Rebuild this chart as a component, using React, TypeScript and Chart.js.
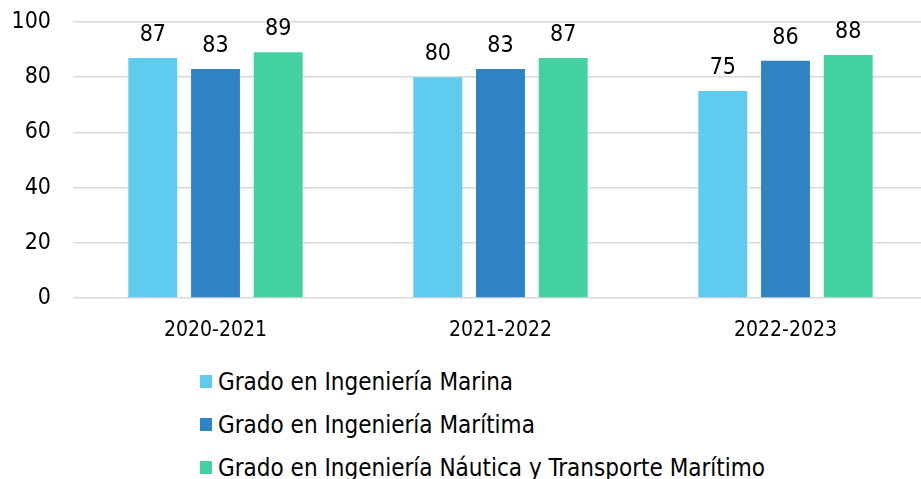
import React, { useEffect, useRef } from "react";
import { Chart, registerables } from "chart.js";

Chart.register(...registerables);

const categories = ["2020-2021", "2021-2022", "2022-2023"];
const seriesNames = [
  "Grado en Ingeniería Marina",
  "Grado en Ingeniería Marítima",
  "Grado en Ingeniería Náutica y Transporte Marítimo",
];
const marina = [87, 80, 75];
const maritima = [83, 83, 86];
const nautica = [89, 87, 88];
const colors = ["#5ECBEF", "#2E83C4", "#43D1A0"];
const yTicks = [0, 20, 40, 60, 80, 100];

const FONT = "'DejaVu Sans Condensed', 'Liberation Sans', sans-serif";

const valueLabels = {
  id: "valueLabels",
  afterDatasetsDraw(chart: any) {
    const ctx = chart.ctx;
    ctx.save();
    ctx.fillStyle = "#000";
    ctx.font = `23px ${FONT}`;
    ctx.textAlign = "center";
    ctx.textBaseline = "alphabetic";
    chart.data.datasets.forEach((ds: any, i: number) => {
      const meta = chart.getDatasetMeta(i);
      meta.data.forEach((el: any, j: number) => {
        ctx.fillText(String(ds.data[j]), el.x, el.y - 17);
      });
    });
    ctx.restore();
  },
};

export default function App() {
  const ref = useRef<HTMLCanvasElement>(null);
  useEffect(() => {
    const chart = new Chart(ref.current!, {
      type: "bar",
      data: {
        labels: categories,
        datasets: [marina, maritima, nautica].map((d, i) => ({
          label: seriesNames[i],
          data: d,
          backgroundColor: colors[i],
          barPercentage: 0.78,
          categoryPercentage: 0.66,
        })),
      },
      options: {
        responsive: false,
        animation: false,
        layout: { padding: { top: 22, right: 0, left: 0, bottom: 0 } },
        plugins: { legend: { display: false }, tooltip: { enabled: false } },
        scales: {
          x: {
            grid: { display: false },
            border: { display: false },
            ticks: { color: "#000", font: { family: FONT, size: 21 }, padding: 12 },
            afterFit: (s: any) => {
              s.height = 52;
              s.paddingLeft = 0;
              s.paddingRight = 0;
            },
          },
          y: {
            min: 0,
            max: 100,
            afterBuildTicks: (s: any) => {
              s.ticks = yTicks.map((v) => ({ value: v }));
            },
            grid: { color: "#D9D9D9", lineWidth: 1.5, drawTicks: false },
            border: { display: false },
            ticks: { color: "#000", font: { family: FONT, size: 23 }, padding: 22 },
            afterFit: (s: any) => {
              s.width = 73;
              s.paddingTop = 0;
              s.paddingBottom = 0;
            },
          },
        },
      },
      plugins: [valueLabels],
    });
    return () => chart.destroy();
  }, []);

  return (
    <div
      style={{
        position: "absolute",
        left: 0,
        top: 0,
        width: 921,
        height: 479,
        overflow: "hidden",
        background: "#fff",
      }}
    >
      <canvas ref={ref} width={928} height={350} style={{ display: "block" }} />
      <div style={{ position: "absolute", left: 200, top: 360 }}>
        {seriesNames.map((n, i) => (
          <div
            key={n}
            style={{
              display: "flex",
              alignItems: "center",
              height: 43,
              fontFamily: FONT,
              fontSize: 24,
              color: "#000",
              whiteSpace: "nowrap",
            }}
          >
            <span
              style={{
                display: "inline-block",
                width: 12,
                height: 13,
                background: colors[i],
                marginRight: 6,
              }}
            />
            {n}
          </div>
        ))}
      </div>
    </div>
  );
}
